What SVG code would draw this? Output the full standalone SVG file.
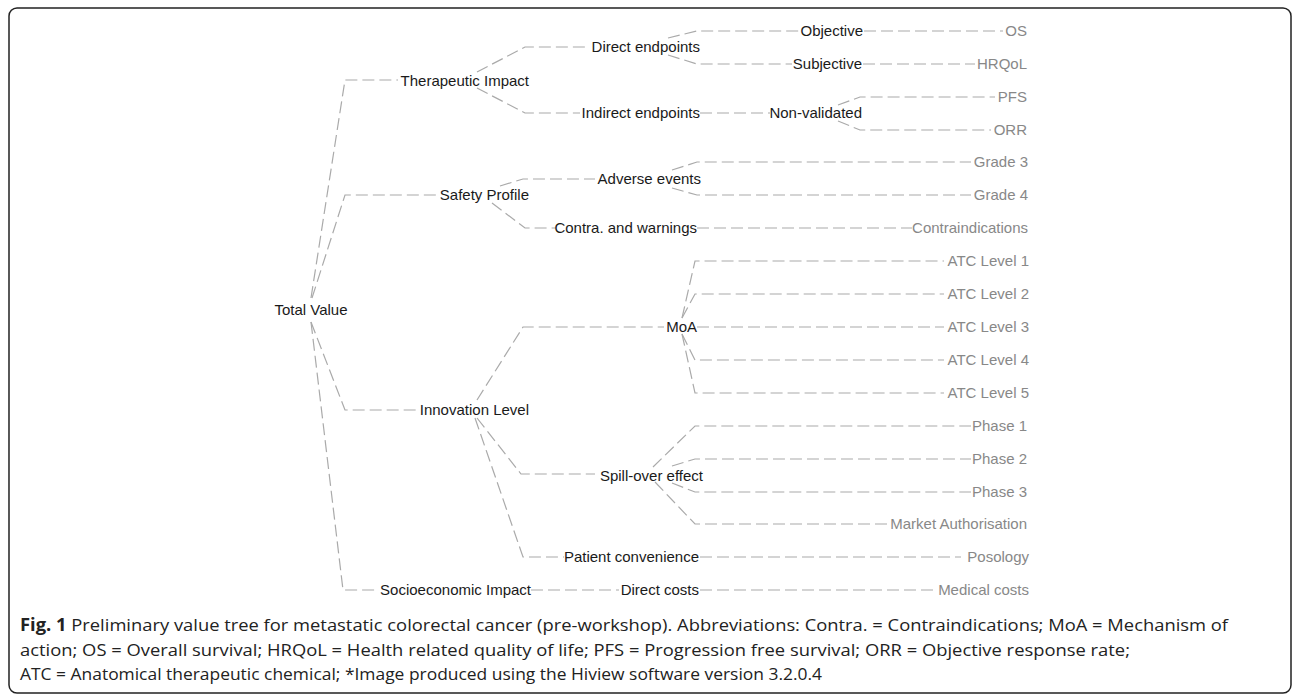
<svg xmlns="http://www.w3.org/2000/svg" width="1292" height="695" viewBox="0 0 1292 695">
<style>
.frame{fill:none;stroke:#222;stroke-width:1.5}
.c path{fill:none;stroke:#aaa;stroke-width:1.2;stroke-dasharray:12 5}
text{font-family:"Liberation Sans",Arial,sans-serif;font-size:15px}
.n{fill:#1a1a1a}
.lf{fill:#888;text-anchor:end}
.l1,.l2,.l3{text-anchor:end}
.cap{font-family:"Open Sans","Noto Sans",sans-serif;font-size:17px;fill:#222}
.cap .b{font-weight:bold}
</style>
<rect class="frame" x="9" y="8" width="1282" height="685" rx="8"/>
<g class="c" id="connectors">
<path d="M311,298 L345,80 L398,80"/>
<path d="M312,298 L345,195 L438,195"/>
<path d="M311,322 L345,410 L419,410"/>
<path d="M311,322 L343,590 L375,590"/>
<path d="M477,72 L525,47 L588,47"/>
<path d="M477,88 L525,113 L580,113"/>
<path d="M500,186 L523,179 L595,179"/>
<path d="M492,203 L525,228 L556,228"/>
<path d="M477,400 L523,327 L664,327"/>
<path d="M477,418 L521,474 L595,474"/>
<path d="M475,418 L523,557 L564,557"/>
<path d="M531,590 L619,590"/>
<path d="M668,38 L697,31 L799,31"/>
<path d="M668,55 L697,64 L792,64"/>
<path d="M700,113 L770,113"/>
<path d="M672,170 L697,162 L971,162"/>
<path d="M672,188 L697,195 L971,195"/>
<path d="M697,228 L912,228"/>
<path d="M682,318 L695,261 L944,261"/>
<path d="M682,318 L695,294 L944,294"/>
<path d="M697,327 L944,327"/>
<path d="M682,334 L695,360 L944,360"/>
<path d="M682,334 L695,393 L944,393"/>
<path d="M653,467 L695,426 L971,426"/>
<path d="M672,466 L695,459 L971,459"/>
<path d="M672,483 L695,492 L971,492"/>
<path d="M655,482 L695,524 L892,524"/>
<path d="M700,557 L961,557"/>
<path d="M700,590 L937,590"/>
<path d="M838,105 L860,97 L995,97"/>
<path d="M838,121 L860,130 L991,130"/>
<path d="M864,31 L1003,31"/>
<path d="M863,64 L975,64"/>
</g>
<g id="n-total"><text class="n" x="311" y="315" text-anchor="middle">Total Value</text></g>
<g id="n-ther"><text class="n l1" x="529" y="86">Therapeutic Impact</text></g>
<g id="n-safety"><text class="n l1" x="529" y="200">Safety Profile</text></g>
<g id="n-innov"><text class="n l1" x="529" y="415">Innovation Level</text></g>
<g id="n-socio"><text class="n l1" x="531" y="595">Socioeconomic Impact</text></g>
<g id="n-direct"><text class="n l2" x="700" y="52">Direct endpoints</text></g>
<g id="n-indirect"><text class="n l2" x="700" y="118">Indirect endpoints</text></g>
<g id="n-adverse"><text class="n l2" x="701" y="184">Adverse events</text></g>
<g id="n-contra"><text class="n l2" x="697" y="233">Contra. and warnings</text></g>
<g id="n-moa"><text class="n l2" x="697" y="332">MoA</text></g>
<g id="n-spill"><text class="n l2" x="703" y="481">Spill-over effect</text></g>
<g id="n-patient"><text class="n l2" x="699" y="562">Patient convenience</text></g>
<g id="n-dcosts"><text class="n l2" x="699" y="595">Direct costs</text></g>
<g id="n-obj"><text class="n l3" x="863" y="36">Objective</text></g>
<g id="n-subj"><text class="n l3" x="862" y="69">Subjective</text></g>
<g id="n-nonval"><text class="n l3" x="862" y="118">Non-validated</text></g>
<g id="n-os"><text class="lf" x="1027" y="36">OS</text></g>
<g id="n-hrqol"><text class="lf" x="1027" y="69">HRQoL</text></g>
<g id="n-pfs"><text class="lf" x="1027" y="102">PFS</text></g>
<g id="n-orr"><text class="lf" x="1027" y="135">ORR</text></g>
<g id="n-g3"><text class="lf" x="1028" y="167">Grade 3</text></g>
<g id="n-g4"><text class="lf" x="1028" y="200">Grade 4</text></g>
<g id="n-contraind"><text class="lf" x="1028" y="233">Contraindications</text></g>
<g id="n-atc1"><text class="lf" x="1029" y="266">ATC Level 1</text></g>
<g id="n-atc2"><text class="lf" x="1029" y="299">ATC Level 2</text></g>
<g id="n-atc3"><text class="lf" x="1029" y="332">ATC Level 3</text></g>
<g id="n-atc4"><text class="lf" x="1029" y="365">ATC Level 4</text></g>
<g id="n-atc5"><text class="lf" x="1029" y="398">ATC Level 5</text></g>
<g id="n-p1"><text class="lf" x="1027" y="431">Phase 1</text></g>
<g id="n-p2"><text class="lf" x="1027" y="464">Phase 2</text></g>
<g id="n-p3"><text class="lf" x="1027" y="497">Phase 3</text></g>
<g id="n-ma"><text class="lf" x="1027" y="529">Market Authorisation</text></g>
<g id="n-pos"><text class="lf" x="1029" y="562">Posology</text></g>
<g id="n-med"><text class="lf" x="1029" y="595">Medical costs</text></g>
<g id="caption">
<text class="cap" x="20" y="631" textLength="1208" lengthAdjust="spacingAndGlyphs"><tspan class="b">Fig. 1</tspan> Preliminary value tree for metastatic colorectal cancer (pre-workshop). Abbreviations: Contra. = Contraindications; MoA = Mechanism of</text>
<text class="cap" x="20" y="656" textLength="1110" lengthAdjust="spacingAndGlyphs">action; OS = Overall survival; HRQoL = Health related quality of life; PFS = Progression free survival; ORR = Objective response rate;</text>
<text class="cap" x="20" y="680" textLength="802" lengthAdjust="spacingAndGlyphs">ATC = Anatomical therapeutic chemical; *Image produced using the Hiview software version 3.2.0.4</text>
</g>
</svg>
